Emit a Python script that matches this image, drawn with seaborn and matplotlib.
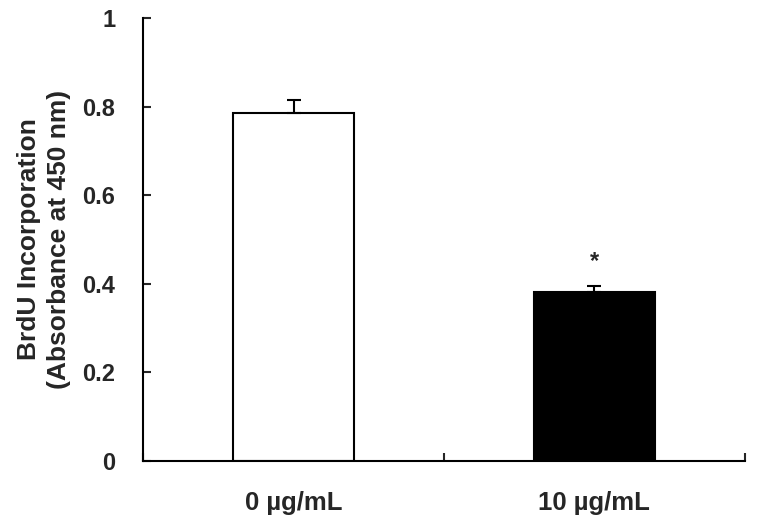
import matplotlib
matplotlib.use("Agg")
import matplotlib.pyplot as plt
import seaborn as sns
import pandas as pd

categories = ["0 µg/mL", "10 µg/mL"]
values = [0.786, 0.381]
errors = [0.029, 0.015]
colors = ["white", "black"]
yticks = [0, 0.2, 0.4, 0.6, 0.8, 1]
ytick_labels = ["0", "0.2", "0.4", "0.6", "0.8", "1"]

sns.set_theme(style="ticks")
plt.rcParams['font.family'] = ['Liberation Sans', 'DejaVu Sans']
plt.rcParams['font.weight'] = 'bold'

fig = plt.figure(figsize=(7.57, 5.19), dpi=100)
ax = fig.add_axes([0.189, 0.112, 0.795, 0.853])

df = pd.DataFrame({"cat": categories, "val": values})
sns.barplot(data=df, x="cat", y="val", hue="cat", palette=colors, legend=False,
            edgecolor="black", linewidth=1.5, width=0.40, ax=ax, errorbar=None)

ax.errorbar(range(len(values)), values, yerr=[[0]*len(values), errors], fmt="none",
            ecolor="black", elinewidth=1.5, capsize=5, capthick=1.5, zorder=5)

ax.text(1, values[1] + errors[1] + 0.055, "*", ha="center", va="center",
        fontsize=17, fontweight="bold")

ax.set_xlim(-0.5, 1.5)
ax.set_ylim(0, 1)
ax.set_yticks(yticks)
ax.set_yticklabels(ytick_labels, fontsize=17, fontweight="bold")
ax.set_xticks([-0.5, 0.5, 1.5], minor=False)
ax.set_xticklabels([])
ax.set_xticks([0, 1], minor=True)
ax.set_xticklabels(categories, minor=True, fontsize=18.5, fontweight="bold")
ax.tick_params(axis="x", which="minor", length=0, pad=22)
ax.tick_params(axis="x", which="major", direction="in", length=6, width=1.5)
ax.tick_params(axis="y", direction="in", length=6, width=1.5, pad=20)
ax.set_xlabel("")
ax.set_ylabel("BrdU Incorporation\n(Absorbance at 450 nm)", fontsize=19,
              fontweight="bold", labelpad=8, linespacing=1.3)
sns.despine(ax=ax)
for s in ["left", "bottom"]:
    ax.spines[s].set_linewidth(1.5)
    ax.spines[s].set_color("black")

fig.savefig("out.png", dpi=100)
